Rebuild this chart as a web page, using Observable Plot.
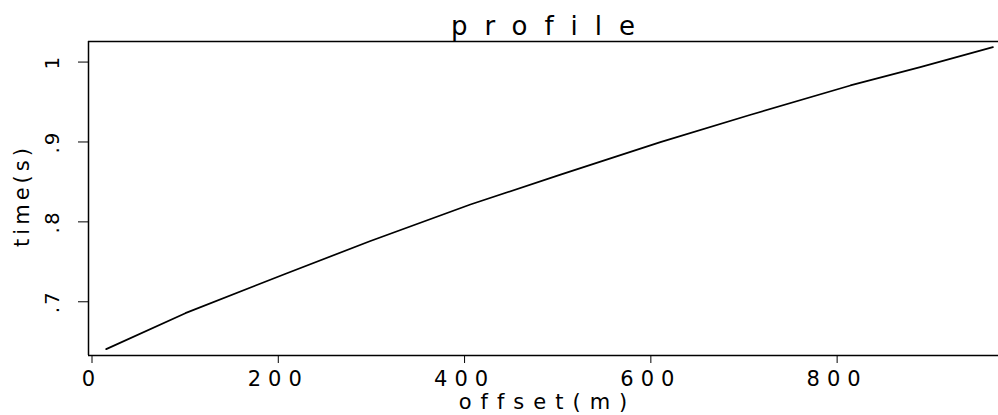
<!DOCTYPE html>
<html>
<head>
<meta charset="utf-8">
<script src="https://cdn.jsdelivr.net/npm/d3@7"></script>
<script src="https://cdn.jsdelivr.net/npm/@observablehq/plot@0.6"></script>
<style>
  body { margin: 0; background: #fff; }
  svg { font-family: "DejaVu Sans", sans-serif; }
  g[aria-label="x-axis tick label"] text { letter-spacing: 7px; }
  g[aria-label="y-axis tick label"] text { letter-spacing: 2px; }
</style>
</head>
<body>
<div id="chart"></div>
<script>
// ---- data ----
const offsets = [19, 104, 211, 302, 410, 506, 614, 710, 818, 893, 971];
const times   = [0.642, 0.687, 0.736, 0.777, 0.823, 0.860, 0.901, 0.935, 0.972, 0.995, 1.020];
const xTicks = [0, 200, 400, 600, 800];
const yTicks = [0.7, 0.8, 0.9, 1];
const yTickLabels = [".7", ".8", ".9", "1"];
const xDomain = [0, 977];
const yDomain = [0.634, 1.027];
const titleText = "profile";
const xLabel = "offset(m)";
const yLabel = "time(s)";

const data = offsets.map((o, i) => ({offset: o, time: times[i]}));

const chart = Plot.plot({
  width: 998,
  height: 415,
  marginLeft: 88,
  marginRight: 0,
  marginTop: 41,
  marginBottom: 60,
  style: {background: "#fff", color: "#000", fontFamily: "DejaVu Sans, sans-serif"},
  x: {domain: xDomain, axis: null},
  y: {domain: yDomain, axis: null},
  marks: [
    Plot.axisX({ticks: xTicks, tickSize: 8, tickPadding: 8, fontSize: 21, label: null, stroke: "#000", dx: 3.5}),
    Plot.axisY({ticks: yTicks, tickSize: 10, tickPadding: 20, fontSize: 20, tickRotate: -90, label: null,
      tickFormat: d => yTickLabels[yTicks.indexOf(d)], stroke: "#000", dy: -1}),
    Plot.ruleY([yDomain[0], yDomain[1]], {stroke: "#000", strokeWidth: 1.5}),
    Plot.ruleX([xDomain[0]], {stroke: "#000", strokeWidth: 1.5}),
    Plot.line(data, {x: "offset", y: "time", stroke: "#000", strokeWidth: 1.7}),
    Plot.text([titleText], {frameAnchor: "top", dy: -15, dx: 8, lineAnchor: "middle", textAnchor: "middle", fontSize: 26, fill: "#000"}),
    Plot.text([xLabel], {frameAnchor: "bottom", dy: 47, dx: 4, lineAnchor: "middle", textAnchor: "middle", fontSize: 21, fill: "#000"}),
    Plot.text([yLabel], {frameAnchor: "left", dx: -66, dy: -3, rotate: -90, lineAnchor: "middle", textAnchor: "middle", fontSize: 21, fill: "#000"})
  ]
});
const spacing = new Map([[titleText, "17px"], [xLabel, "9px"], [yLabel, "4px"]]);
d3.select(chart).selectAll("text")
  .filter(function () { return spacing.has(this.textContent); })
  .style("letter-spacing", function () { return spacing.get(this.textContent); });
document.getElementById("chart").appendChild(chart);
</script>
</body>
</html>
